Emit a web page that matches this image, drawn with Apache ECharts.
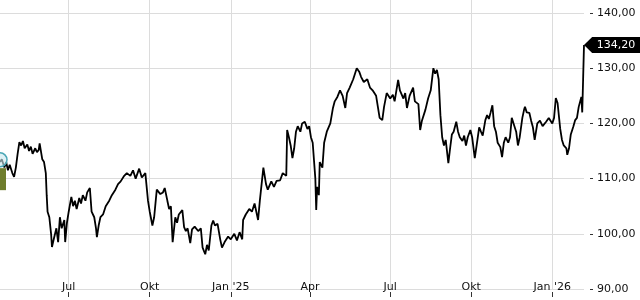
<!DOCTYPE html>
<html>
<head>
<meta charset="utf-8">
<script src="https://cdn.jsdelivr.net/npm/echarts@6/dist/echarts.min.js"></script>
<style>
html,body{margin:0;padding:0;background:#fff;}
#chart{width:640px;height:300px;}
</style>
</head>
<body>
<div id="chart"></div>
<script>
const dates = [
'2024-04-14','2024-04-16','2024-04-19','2024-04-21','2024-04-23','2024-04-25','2024-04-28','2024-04-30',
'2024-05-02','2024-05-04','2024-05-06','2024-05-08','2024-05-10','2024-05-12','2024-05-15','2024-05-17',
'2024-05-19','2024-05-21','2024-05-24','2024-05-26','2024-05-28','2024-05-29','2024-06-01','2024-06-03',
'2024-06-05','2024-06-06','2024-06-07','2024-06-09','2024-06-11','2024-06-12','2024-06-14','2024-06-17',
'2024-06-19','2024-06-21','2024-06-23','2024-06-26','2024-06-27','2024-06-29','2024-07-01','2024-07-04',
'2024-07-06','2024-07-08','2024-07-10','2024-07-13','2024-07-15','2024-07-17','2024-07-20','2024-07-22',
'2024-07-25','2024-07-27','2024-07-30','2024-08-01','2024-08-02','2024-08-04','2024-08-06','2024-08-09',
'2024-08-12','2024-08-16','2024-08-19','2024-08-23','2024-08-26','2024-08-29','2024-09-02','2024-09-05',
'2024-09-09','2024-09-12','2024-09-15','2024-09-19','2024-09-22','2024-09-26','2024-09-28','2024-09-29',
'2024-10-01','2024-10-04','2024-10-06','2024-10-09','2024-10-13','2024-10-16','2024-10-18','2024-10-21',
'2024-10-23','2024-10-25','2024-10-27','2024-10-30','2024-11-01','2024-11-03','2024-11-07','2024-11-09',
'2024-11-11','2024-11-13','2024-11-16','2024-11-18','2024-11-21','2024-11-25','2024-11-28','2024-11-30',
'2024-12-03','2024-12-05','2024-12-07','2024-12-10','2024-12-12','2024-12-14','2024-12-17','2024-12-20',
'2024-12-22','2024-12-25','2024-12-29','2025-01-01','2025-01-05','2025-01-08','2025-01-11','2025-01-14',
'2025-01-15','2025-01-18','2025-01-22','2025-01-25','2025-01-28','2025-02-01','2025-02-03','2025-02-07',
'2025-02-10','2025-02-12','2025-02-16','2025-02-19','2025-02-22','2025-02-26','2025-03-01','2025-03-05',
'2025-03-06','2025-03-08','2025-03-10','2025-03-12','2025-03-14','2025-03-16','2025-03-18','2025-03-21',
'2025-03-23','2025-03-26','2025-03-29','2025-03-31','2025-04-02','2025-04-04','2025-04-07','2025-04-08',
'2025-04-09','2025-04-11','2025-04-12','2025-04-15','2025-04-17','2025-04-20','2025-04-24','2025-04-27',
'2025-04-29','2025-05-02','2025-05-05','2025-05-08','2025-05-11','2025-05-13','2025-05-16','2025-05-20',
'2025-05-22','2025-05-24','2025-05-27','2025-05-29','2025-06-01','2025-06-05','2025-06-08','2025-06-11',
'2025-06-15','2025-06-17','2025-06-19','2025-06-22','2025-06-24','2025-06-27','2025-07-01','2025-07-04',
'2025-07-06','2025-07-10','2025-07-12','2025-07-16','2025-07-18','2025-07-20','2025-07-23','2025-07-27',
'2025-07-29','2025-08-02','2025-08-04','2025-08-06','2025-08-10','2025-08-13','2025-08-16','2025-08-19',
'2025-08-21','2025-08-23','2025-08-25','2025-08-27','2025-08-29','2025-08-31','2025-09-02','2025-09-05',
'2025-09-07','2025-09-09','2025-09-11','2025-09-14','2025-09-16','2025-09-18','2025-09-21','2025-09-23',
'2025-09-25','2025-09-27','2025-09-30','2025-10-02','2025-10-05','2025-10-08','2025-10-10','2025-10-12',
'2025-10-14','2025-10-17','2025-10-19','2025-10-21','2025-10-23','2025-10-25','2025-10-27','2025-10-29',
'2025-10-31','2025-11-03','2025-11-05','2025-11-07','2025-11-09','2025-11-12','2025-11-14','2025-11-16',
'2025-11-19','2025-11-21','2025-11-23','2025-11-25','2025-11-28','2025-11-30','2025-12-01','2025-12-03',
'2025-12-06','2025-12-08','2025-12-10','2025-12-12','2025-12-15','2025-12-18','2025-12-21','2025-12-25',
'2025-12-28','2026-01-01','2026-01-03','2026-01-05','2026-01-07','2026-01-10','2026-01-12','2026-01-14',
'2026-01-17','2026-01-18','2026-01-20','2026-01-22','2026-01-25','2026-01-27','2026-01-29','2026-01-31',
'2026-02-03','2026-02-04','2026-02-05','2026-02-06'
];
const closes = [
113,113.5,112,113,111.5,112.5,111,110.3,
112,114.5,116.6,116,116.8,115.5,116.2,115,
115.8,114.5,115.5,114.8,115.2,116.4,113.5,113,
111,107,104,103,100,97.6,99,101,
98.5,103,101,102.5,98.5,102,104,106.7,
105,106,104.5,106.5,105.5,107,106,107.5,
108.3,104,103,101,99.4,101.5,103,103.5,
105,106,107,108,109,109.5,110.5,111,
110.5,111.5,110,111.8,110.2,111,111.2,106,
104,101.5,103,108,107.2,107.5,108.3,106,
104.5,105,98.5,103,102,103.5,104.3,101.2,
100.5,101,98.3,100.8,101.3,100.5,101,97.5,
96.3,98,97,101.5,102.4,101.5,101.8,99,
97.5,98.5,99.5,99,100,98.8,100.3,99,
102.5,103.5,104.5,104,105.5,102.5,106,112,
109,108,109.5,108.5,109.6,109.7,111,110.5,
118.8,117.5,116,113.7,115.5,118.5,119.5,118.5,
120,120.3,119,119.5,117.5,116.5,110,104.3,
108.5,107,113,112,116.5,118.5,120,122.8,
124,124.8,126,125,122.8,125.5,126.5,128,
129,130,129.3,128.4,127.5,128,126.5,126,
125,123,121,120.6,123,125.5,124.5,125.2,
124,127.9,126,124.5,125.5,122.8,125,126.5,
124,123.5,118.8,120.5,122.5,124.5,126,130,
129,129.7,128,121.5,117.5,116,117,112.8,
115.5,118,118.5,120.3,118.5,117.5,116.8,117.8,
116,117.5,118.8,117.5,113.7,117,119.3,118.5,
117.8,120.6,121.5,120.8,122,123.3,119.5,118.5,
116.5,115.7,113.9,116.5,117.5,116.5,117.5,121,
119.5,118.5,116,117.5,121,122.5,123,122,
121.9,120.5,119.3,117,120,120.5,119.5,120.3,
121,120,121,124.6,123.7,119,117,116,
115.5,114.3,115.5,118,119.5,120.6,121,123,
124.8,122,128,134.2
];
const yTicks = [90, 100, 110, 120, 130, 140];
const xTickDates = ['2024-07-01','2024-10-01','2025-01-01','2025-04-01','2025-07-01','2025-10-01','2026-01-01'];
const xTickLabels = ['Jul','Okt',"Jan '25",'Apr','Jul','Okt',"Jan '26"];
const xMin = '2024-04-14';
const xMax = '2026-02-06';
const yMin = 90;
const yMax = 142.36;

function ts(s){ const p = s.split('-').map(Number); return Date.UTC(p[0], p[1]-1, p[2]); }
const xTickVals = xTickDates.map(ts);
function fmt(v){ return v.toFixed(2).replace('.', ','); }

const FONT = 'DejaVu Sans';
const seriesData = dates.map((d, i) => [ts(d), closes[i]]);
const lastIdx = dates.length - 1;

const chart = echarts.init(document.getElementById('chart'), null, {renderer: 'canvas'});
chart.setOption({
  animation: false,
  grid: {left: 0, right: 56, top: 0, bottom: 11, containLabel: false},
  xAxis: {
    type: 'value',
    min: ts(xMin),
    max: ts(xMax),
    scale: true,
    offset: 3,
    axisLine: {show: false},
    axisTick: {show: true, length: 5, customValues: xTickVals, lineStyle: {color: '#333', width: 1}},
    axisLabel: {
      customValues: xTickVals,
      margin: -5,
      verticalAlign: 'middle',
      fontFamily: FONT, fontSize: 11, color: '#111',
      formatter: function(v){ const i = xTickVals.indexOf(v); return i >= 0 ? xTickLabels[i] : ''; }
    },
    splitLine: {show: true, lineStyle: {color: '#dcdcdc', width: 1}}
  },
  yAxis: {
    type: 'value',
    position: 'right',
    min: yMin,
    max: yMax,
    offset: 6,
    axisLine: {show: false},
    axisTick: {show: true, length: 3, customValues: yTicks, lineStyle: {color: '#333', width: 1}},
    axisLabel: {
      customValues: yTicks,
      margin: 7,
      fontFamily: FONT, fontSize: 11, color: '#111',
      formatter: function(v){ return yTicks.indexOf(v) >= 0 ? fmt(v) : ''; }
    },
    splitLine: {show: true, lineStyle: {color: '#dcdcdc', width: 1}}
  },
  series: [{
    type: 'line',
    data: seriesData,
    showSymbol: false,
    symbol: 'none',
    clip: false,
    lineStyle: {color: '#000', width: 1.8},
    z: 3,
    markPoint: {
      silent: true,
      animation: false,
      data: [
        {
          coord: [seriesData[0][0], 109.9],
          symbol: 'rect', symbolSize: [12, 22],
          itemStyle: {color: '#6e7d2c'},
          label: {show: false}
        },
        {
          coord: [seriesData[0][0], 113.4],
          symbol: 'circle', symbolSize: 14,
          itemStyle: {color: 'rgba(200,232,238,0.6)', borderColor: '#4aa6b5', borderWidth: 1.5},
          label: {show: false}
        },
        {
          coord: seriesData[lastIdx],
          symbol: 'path://M0,8 L8,0 L55,0 L55,16 L8,16 Z',
          symbolSize: [56, 16],
          symbolOffset: ['50%', 0],
          symbolKeepAspect: false,
          itemStyle: {color: '#000'},
          label: {
            show: true, position: 'inside', offset: [4, 0],
            color: '#fff', fontFamily: FONT, fontSize: 11,
            formatter: function(){ return fmt(closes[lastIdx]); }
          }
        }
      ]
    }
  }]
});
</script>
</body>
</html>
